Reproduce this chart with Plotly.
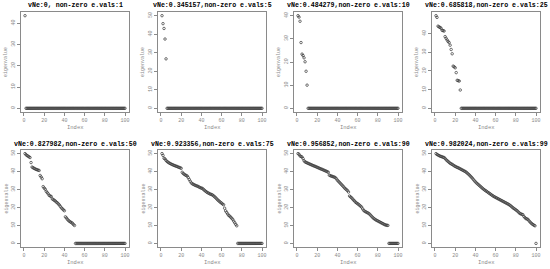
import plotly.graph_objects as go
from plotly.subplots import make_subplots

# eigenvalues (non-zero part, rest are zeros up to 100)
ev1 = [43.6]
ev5 = [50.0, 45.7, 43.1, 37.4, 26.7]
ev10 = [40.0, 39.4, 37.6, 28.4, 23.4, 22.8, 21.8, 20.1, 16.0, 10.0]
ev25 = [49.6, 48.7, 44.0, 43.6, 43.3, 42.9, 41.8, 41.6, 41.4, 38.4,
        37.5, 36.6, 35.8, 35.2, 33.8, 31.5, 29.2, 22.6, 22.2, 21.7,
        19.1, 15.0, 14.8, 14.6, 9.8]
ev50 = [50.0, 49.4, 48.9, 48.6, 48.2, 47.8, 45.0, 42.5, 42.1, 41.8,
        41.5, 41.2, 41.0, 40.8, 40.6, 37.8, 37.0, 36.0, 31.6, 30.8,
        30.2, 29.0, 28.3, 27.6, 26.7, 26.4, 26.1, 24.8, 24.4, 24.0,
        23.6, 23.0, 22.6, 22.0, 21.4, 20.6, 19.8, 19.3, 18.7, 18.2,
        14.8, 14.2, 13.4, 12.8, 12.3, 11.9, 11.6, 11.2, 10.5, 10.0]
ev75 = [50.0, 49.0, 47.4, 47.0, 46.2, 45.6, 45.2, 44.8, 44.5, 44.2,
        43.9, 43.7, 43.4, 43.2, 43.0, 42.8, 42.5, 42.3, 42.1, 41.8,
        39.6, 38.9, 38.5, 38.1, 37.8, 37.5, 36.6, 35.6, 34.6, 33.7,
        33.2, 32.9, 32.6, 32.3, 32.1, 31.9, 31.6, 31.3, 31.0, 30.8,
        30.6, 30.1, 29.6, 29.1, 28.7, 28.3, 28.0, 27.7, 27.4, 27.2,
        27.0, 26.5, 26.0, 25.5, 24.9, 24.3, 23.8, 23.3, 22.8, 22.4,
        21.9, 21.5, 19.6, 18.1, 17.3, 16.4, 15.6, 15.2, 14.6, 14.0,
        13.4, 12.4, 11.5, 10.6, 9.8]
ev90 = [50.0, 49.6, 48.7, 48.4, 48.1, 47.2, 46.0, 45.4, 45.1, 44.8,
        44.6, 44.3, 44.1, 43.8, 43.6, 43.3, 43.1, 42.9, 42.6, 42.4,
        42.1, 41.9, 41.6, 41.4, 41.2, 40.9, 40.7, 40.4, 40.2, 39.9,
        39.6, 38.0, 37.7, 37.5, 37.3, 37.1, 36.9, 36.6, 36.0, 35.2,
        34.6, 34.0, 33.4, 32.8, 32.2, 31.6, 30.9, 30.4, 29.9, 29.4,
        28.6, 26.4, 25.9, 25.4, 24.8, 24.1, 23.6, 22.9, 22.5, 22.1,
        21.7, 21.2, 20.7, 20.2, 19.2, 18.4, 17.9, 17.6, 17.3, 17.0,
        16.7, 16.2, 15.6, 15.0, 14.4, 13.9, 13.5, 13.1, 12.8, 12.5,
        12.2, 11.9, 11.6, 11.3, 11.0, 10.7, 10.4, 10.2, 10.1, 10.0]
ev99 = [50.0, 49.5, 49.2, 48.9, 48.6, 48.4, 48.2, 48.0, 47.8, 47.3,
        46.6, 46.1, 45.6, 45.1, 44.6, 44.3, 44.0, 43.6, 43.2, 42.9,
        42.6, 42.3, 42.1, 41.8, 41.5, 41.2, 40.9, 40.6, 40.3, 40.0,
        39.6, 39.1, 38.6, 38.1, 37.5, 36.9, 36.3, 35.6, 34.9, 34.3,
        33.7, 33.2, 32.7, 32.2, 31.7, 31.2, 30.7, 30.2, 29.8, 29.4,
        29.0, 28.6, 28.2, 27.8, 27.4, 27.0, 26.6, 26.2, 25.9, 25.6,
        25.3, 25.0, 24.7, 24.4, 24.1, 23.8, 23.5, 23.2, 22.9, 22.6,
        22.3, 22.0, 21.7, 21.3, 20.9, 20.4, 19.9, 19.5, 19.1, 18.7,
        18.3, 17.8, 17.2, 16.7, 16.4, 16.2, 16.0, 15.0, 14.4, 13.8,
        13.6, 13.4, 12.6, 12.0, 11.4, 10.9, 10.5, 10.1, 9.8]

titles = ["vNe:0, non-zero e.vals:1", "vNe:0.345157,non-zero e.vals:5",
          "vNe:0.484279,non-zero e.vals:10", "vNe:0.685818,non-zero e.vals:25",
          "vNe:0.827982,non-zero e.vals:50", "vNe:0.923356,non-zero e.vals:75",
          "vNe:0.956852,non-zero e.vals:90", "vNe:0.982024,non-zero e.vals:99"]
series = [ev1, ev5, ev10, ev25, ev50, ev75, ev90, ev99]
n_total = 100
x_ticks = [0, 20, 40, 60, 80, 100]

# plot box positions in pixels (left, right) / (top, bottom)
W, H = 550, 269
cols_px = [(21, 129), (158, 266), (294, 402), (432, 540)]
rows_px = [(12, 112), (150, 247)]

fig = make_subplots(rows=2, cols=4)
mono = "Liberation Mono"
grey = "#8a8a8a"

for i, (vals, title) in enumerate(zip(series, titles)):
    r, c = i // 4, i % 4
    y = vals + [0.0] * (n_total - len(vals))
    x = list(range(1, n_total + 1))
    fig.add_trace(go.Scatter(x=x, y=y, mode="markers",
                             marker=dict(symbol="circle-open", size=2.5, color="#333333",
                                         line=dict(width=0.7))),
                  row=r + 1, col=c + 1)
    ymax = max(y)
    l, rr = cols_px[c]
    t, b = rows_px[r]
    idx = "" if i == 0 else str(i + 1)
    fig.layout["xaxis" + idx].update(
        domain=[l / W, rr / W], range=[-2.96, 103.96], tickvals=x_ticks,
        showline=True, mirror=True, linecolor=grey, linewidth=1, showgrid=False,
        zeroline=False, ticks="outside", ticklen=3, tickcolor=grey,
        tickfont=dict(family=mono, size=5, color=grey))
    yt = list(range(0, int(ymax) + 1, 10))
    fig.layout["yaxis" + idx].update(
        domain=[1 - b / H, 1 - t / H], range=[-0.04 * ymax, 1.04 * ymax],
        tickvals=yt, tickangle=-90,
        showline=True, mirror=True, linecolor=grey, linewidth=1, showgrid=False,
        zeroline=False, ticks="outside", ticklen=3, tickcolor=grey,
        tickfont=dict(family=mono, size=5, color=grey))
    cx = (l + rr) / 2 / W
    fig.add_annotation(text="<b>" + title + "</b>", x=cx, y=1 - (t - 6) / H,
                       xref="paper", yref="paper", showarrow=False,
                       xanchor="center", yanchor="middle",
                       font=dict(family=mono, size=6.6, color="black"))
    fig.add_annotation(text="Index", x=cx, y=1 - (b + 15) / H,
                       xref="paper", yref="paper", showarrow=False,
                       xanchor="center", yanchor="middle",
                       font=dict(family=mono, size=5.5, color=grey))
    fig.add_annotation(text="eigenvalue", x=(l - 15) / W, y=1 - (t + b) / 2 / H,
                       xref="paper", yref="paper", showarrow=False, textangle=-90,
                       xanchor="center", yanchor="middle",
                       font=dict(family=mono, size=5, color=grey))

fig.update_layout(width=W, height=H, margin=dict(l=0, r=0, t=0, b=0),
                  showlegend=False, plot_bgcolor="white", paper_bgcolor="white")
fig.write_html("out.html", config={"displayModeBar": False},
               post_script="document.body.style.margin='0';")
